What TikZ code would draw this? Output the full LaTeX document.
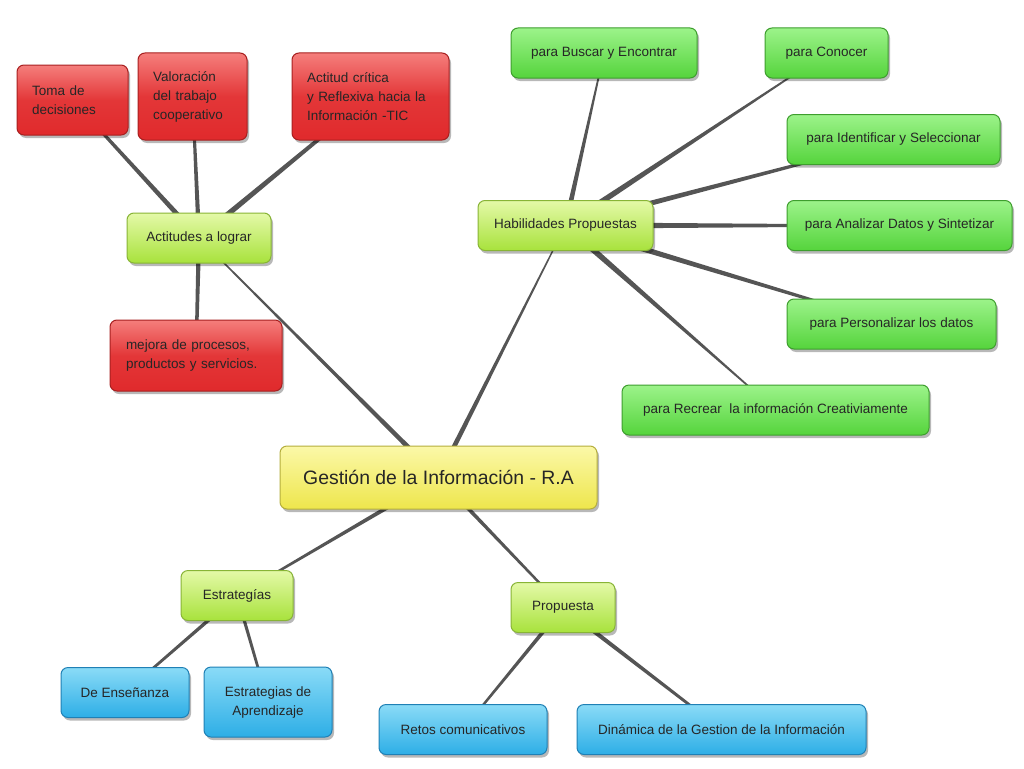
\documentclass[tikz,border=0pt]{standalone}
\usepackage{fontspec}
\setmainfont{Liberation Sans}
\usetikzlibrary{calc,shadows,backgrounds}
\definecolor{linecol}{HTML}{555555}
\definecolor{txt}{HTML}{262626}
\definecolor{redT}{HTML}{F57E7C}\definecolor{redB}{HTML}{E02A2C}\definecolor{redD}{HTML}{A82020}
\definecolor{grT}{HTML}{9CF38A}\definecolor{grB}{HTML}{55D43C}\definecolor{grD}{HTML}{3E9E2E}
\definecolor{lgT}{HTML}{E4F9A8}\definecolor{lgB}{HTML}{A8E23C}\definecolor{lgD}{HTML}{88B436}
\definecolor{yeT}{HTML}{FBF8A8}\definecolor{yeB}{HTML}{EEE64C}\definecolor{yeD}{HTML}{B5AE3E}
\definecolor{blT}{HTML}{8ADBF7}\definecolor{blB}{HTML}{2DAEE6}\definecolor{blD}{HTML}{1F80B5}
\tikzset{
  basebox/.style={rounded corners=7pt, line width=1pt, text=txt, inner ysep=4pt,
    drop shadow={shadow xshift=2pt, shadow yshift=-3pt, opacity=0.28, fill=black},
    font=\fontsize{13.5}{19}\selectfont},
  redbox/.style={basebox, draw=redD, top color=redT, bottom color=redB, middle color=redB!85!redT,
    align=left, inner xsep=15pt},
  leafbox/.style={basebox, draw=grD, top color=grT, bottom color=grB, minimum height=50pt},
  hubbox/.style={basebox, draw=lgD, top color=lgT, bottom color=lgB, minimum height=50pt},
  rootbox/.style={basebox, draw=yeD, top color=yeT, bottom color=yeB, minimum height=63pt,
    font=\fontsize{19.4}{24}\selectfont},
  bluebox/.style={basebox, draw=blD, top color=blT, bottom color=blB, minimum height=50pt},
}
\newcommand\taperline[4]{%
  \fill[linecol] ($(#1.center)!#3!90:(#2.center)$) -- ($(#2.center)!#4!-90:(#1.center)$)
    -- ($(#2.center)!#4!90:(#1.center)$) -- ($(#1.center)!#3!-90:(#2.center)$) -- cycle;}
\begin{document}
\begin{tikzpicture}[x=1pt,y=-1pt]
\useasboundingbox (0,0) rectangle (1024,768);
% red boxes
\node[redbox, text width=81pt, minimum height=70pt] (toma) at (72.5,100) {Toma de\\decisiones};
\node[redbox, text width=79pt, minimum height=87pt] (valor) at (192.5,96.5) {Valoración\\del trabajo\\cooperativo};
\node[redbox, text width=127pt, minimum height=87pt] (critica) at (370.5,96.5) {Actitud crítica\\y Reflexiva hacia la\\Información -TIC};
\node[redbox, text width=140pt, inner xsep=16pt, minimum height=71pt] (mejora) at (196,355.5) {mejora de procesos,\\productos y servicios.};
% hubs
\node[hubbox, minimum width=144pt] (actitudes) at (199,238) {Actitudes a lograr};
\node[hubbox, minimum width=175pt] (habil) at (565.5,225.5) {Habilidades Propuestas};
\node[hubbox, minimum width=112pt] (estrat) at (237,595.5) {Estrategías};
\node[hubbox, minimum width=104pt] (prop) at (563,607.5) {Propuesta};
% root
\node[rootbox, minimum width=317pt] (root) at (438.5,477.5) {Gestión de la Información - R.A};
% green leaves
\node[leafbox, minimum width=186pt] (buscar) at (604,53) {para Buscar y Encontrar};
\node[leafbox, minimum width=123pt] (conocer) at (826.5,53) {para Conocer};
\node[leafbox, minimum width=213pt] (ident) at (893.5,139.5) {para Identificar y Seleccionar};
\node[leafbox, minimum width=225pt] (analizar) at (899.5,225.5) {para Analizar Datos y Sintetizar};
\node[leafbox, minimum width=209pt] (person) at (891.5,324) {para Personalizar los datos};
\node[leafbox, minimum width=307pt] (recrear) at (775.5,410) {para Recrear\ \ la información Creativiamente};
% blue leaves
\node[bluebox, minimum width=128pt] (ensen) at (125,692.5) {De Enseñanza};
\node[bluebox, minimum width=128pt, minimum height=70pt, align=center] (aprend) at (268,702) {Estrategias de\\Aprendizaje};
\node[bluebox, minimum width=168pt] (retos) at (463,729.5) {Retos comunicativos};
\node[bluebox, minimum width=289pt] (dinam) at (721.5,729.5) {Dinámica de la Gestion de la Información};
% connectors
\begin{scope}[on background layer]
\fill[white] (0,0) rectangle (1024,768);
\taperline{actitudes}{toma}{2.6pt}{1.3pt}
\taperline{actitudes}{valor}{2.3pt}{1.2pt}
\taperline{actitudes}{critica}{2.9pt}{1.5pt}
\taperline{actitudes}{mejora}{2.3pt}{1.5pt}
\taperline{root}{actitudes}{2.6pt}{0.6pt}
\taperline{root}{habil}{2.6pt}{0.5pt}
\taperline{habil}{buscar}{2.6pt}{0.6pt}
\taperline{habil}{conocer}{3.2pt}{0.5pt}
\taperline{habil}{ident}{3pt}{1pt}
\taperline{habil}{analizar}{3.2pt}{0.8pt}
\taperline{habil}{person}{3.2pt}{1pt}
\taperline{habil}{recrear}{3.2pt}{0.5pt}
\taperline{root}{estrat}{2.3pt}{1pt}
\taperline{root}{prop}{2.1pt}{1pt}
\taperline{estrat}{ensen}{1.9pt}{1.2pt}
\taperline{estrat}{aprend}{1.7pt}{1.2pt}
\taperline{prop}{retos}{2.1pt}{1pt}
\taperline{prop}{dinam}{2.3pt}{1.2pt}
\end{scope}
\end{tikzpicture}
\end{document}
